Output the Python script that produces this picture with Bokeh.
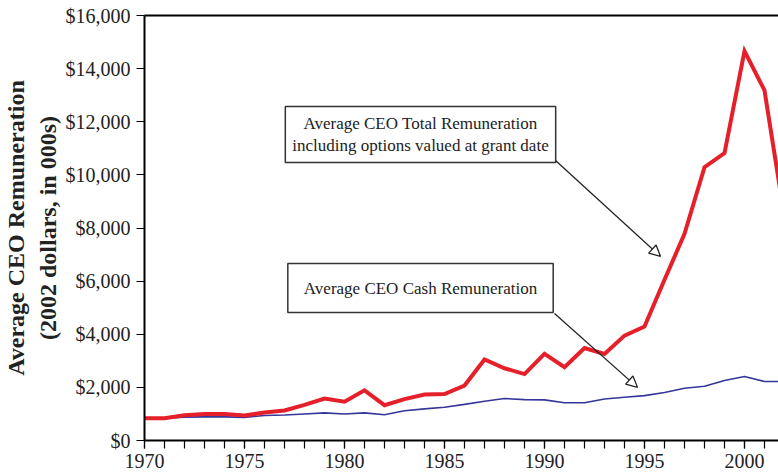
from bokeh.plotting import figure
from bokeh.models import (Range1d, LinearAxis, SingleIntervalTicker, FixedTicker,
                          NumeralTickFormatter, Label, Arrow, NormalHead)
from bokeh.embed import file_html
from bokeh.resources import INLINE

years = list(range(1970, 2003))
total_pay = [840, 840, 950, 1000, 1000, 940, 1050, 1130, 1340, 1580, 1460, 1890,
             1330, 1560, 1730, 1750, 2070, 3050, 2720, 2500, 3260, 2760, 3480, 3260,
             3950, 4290, 6050, 7780, 10290, 10820, 14660, 13180, 8400]
cash_pay = [840, 840, 880, 890, 890, 870, 940, 960, 1000, 1040, 1000, 1040,
            970, 1120, 1190, 1250, 1360, 1480, 1580, 1540, 1530, 1420, 1420, 1560,
            1630, 1690, 1810, 1970, 2040, 2260, 2410, 2220, 2220]

y_ticks = [0, 2000, 4000, 6000, 8000, 10000, 12000, 14000, 16000]

label_total = "Average CEO Total Remuneration\nincluding options valued at grant date"
label_cash = "Average CEO Cash Remuneration"
y_title = "Average CEO Remuneration\n(2002 dollars, in 000s)"

# annotation anchors (data units)
box_total_xy = (1983.8, 11520)
box_cash_xy = (1983.8, 5740)
arrow_total = (1990.55, 10540, 1995.8, 6930)
arrow_cash = (1990.5, 4780, 1994.65, 2000)

SERIF = "Liberation Serif"
TXT = "#222222"

p = figure(width=778, height=475, output_backend="svg", toolbar_location=None,
           x_range=Range1d(1970, 2001.7), y_range=Range1d(0, 16000),
           min_border_left=144, min_border_right=0, min_border_top=15,
           min_border_bottom=35, outline_line_color=None)
p.background_fill_color = "white"
p.border_fill_color = "white"
p.grid.visible = False

xa = p.xaxis[0]
xa.ticker = SingleIntervalTicker(interval=5, num_minor_ticks=5)
xa.major_tick_out = 8
xa.major_tick_in = 0
xa.minor_tick_out = 8
xa.minor_tick_in = 0
xa.axis_line_width = 2
xa.major_tick_line_width = 1.2
xa.minor_tick_line_width = 1.2
xa.major_label_text_font = SERIF
xa.major_label_text_font_size = "20px"
xa.major_label_text_color = TXT
xa.major_label_standoff = 5

ya = p.yaxis[0]
ya.ticker = FixedTicker(ticks=y_ticks)
ya.formatter = NumeralTickFormatter(format="$0,0")
ya.major_tick_out = 8
ya.major_tick_in = 0
ya.minor_tick_out = 0
ya.minor_tick_in = 0
ya.axis_line_width = 2
ya.major_tick_line_width = 1.2
ya.major_label_text_font = SERIF
ya.major_label_text_font_size = "20px"
ya.major_label_text_color = TXT
ya.major_label_standoff = 6
ya.axis_label = y_title
ya.axis_label_text_font = SERIF
ya.axis_label_text_font_style = "bold"
ya.axis_label_text_font_size = "24px"
ya.axis_label_text_color = TXT
ya.axis_label_standoff = 2

top = LinearAxis(ticker=FixedTicker(ticks=[]), axis_line_width=2,
                 major_tick_out=0, major_tick_in=0, minor_tick_out=0, minor_tick_in=0,
                 major_label_standoff=0, major_label_text_font_size="0px")
p.add_layout(top, "above")

p.line(years, cash_pay, line_color="#35359a", line_width=1.6)
p.line(years, total_pay, line_color="#e5202b", line_width=4, line_join="miter")

for (bx, by), txt, pad in [(box_total_xy, label_total, (7, 7)),
                           (box_cash_xy, label_cash, (16, 15))]:
    p.add_layout(Label(x=bx, y=by, text=txt, text_align="center", text_baseline="middle",
                       text_font=SERIF, text_font_size="17px", text_color=TXT,
                       border_line_color="#333333", border_line_width=1.5,
                       background_fill_color="white", padding=pad))

for (x0, y0, x1, y1) in [arrow_total, arrow_cash]:
    p.add_layout(Arrow(x_start=x0, y_start=y0, x_end=x1, y_end=y1,
                       line_color="#222222", line_width=1.3,
                       end=NormalHead(size=11, fill_color="white",
                                      line_color="#222222", line_width=1.3)))

open("out.html", "w").write(file_html(p, INLINE))
